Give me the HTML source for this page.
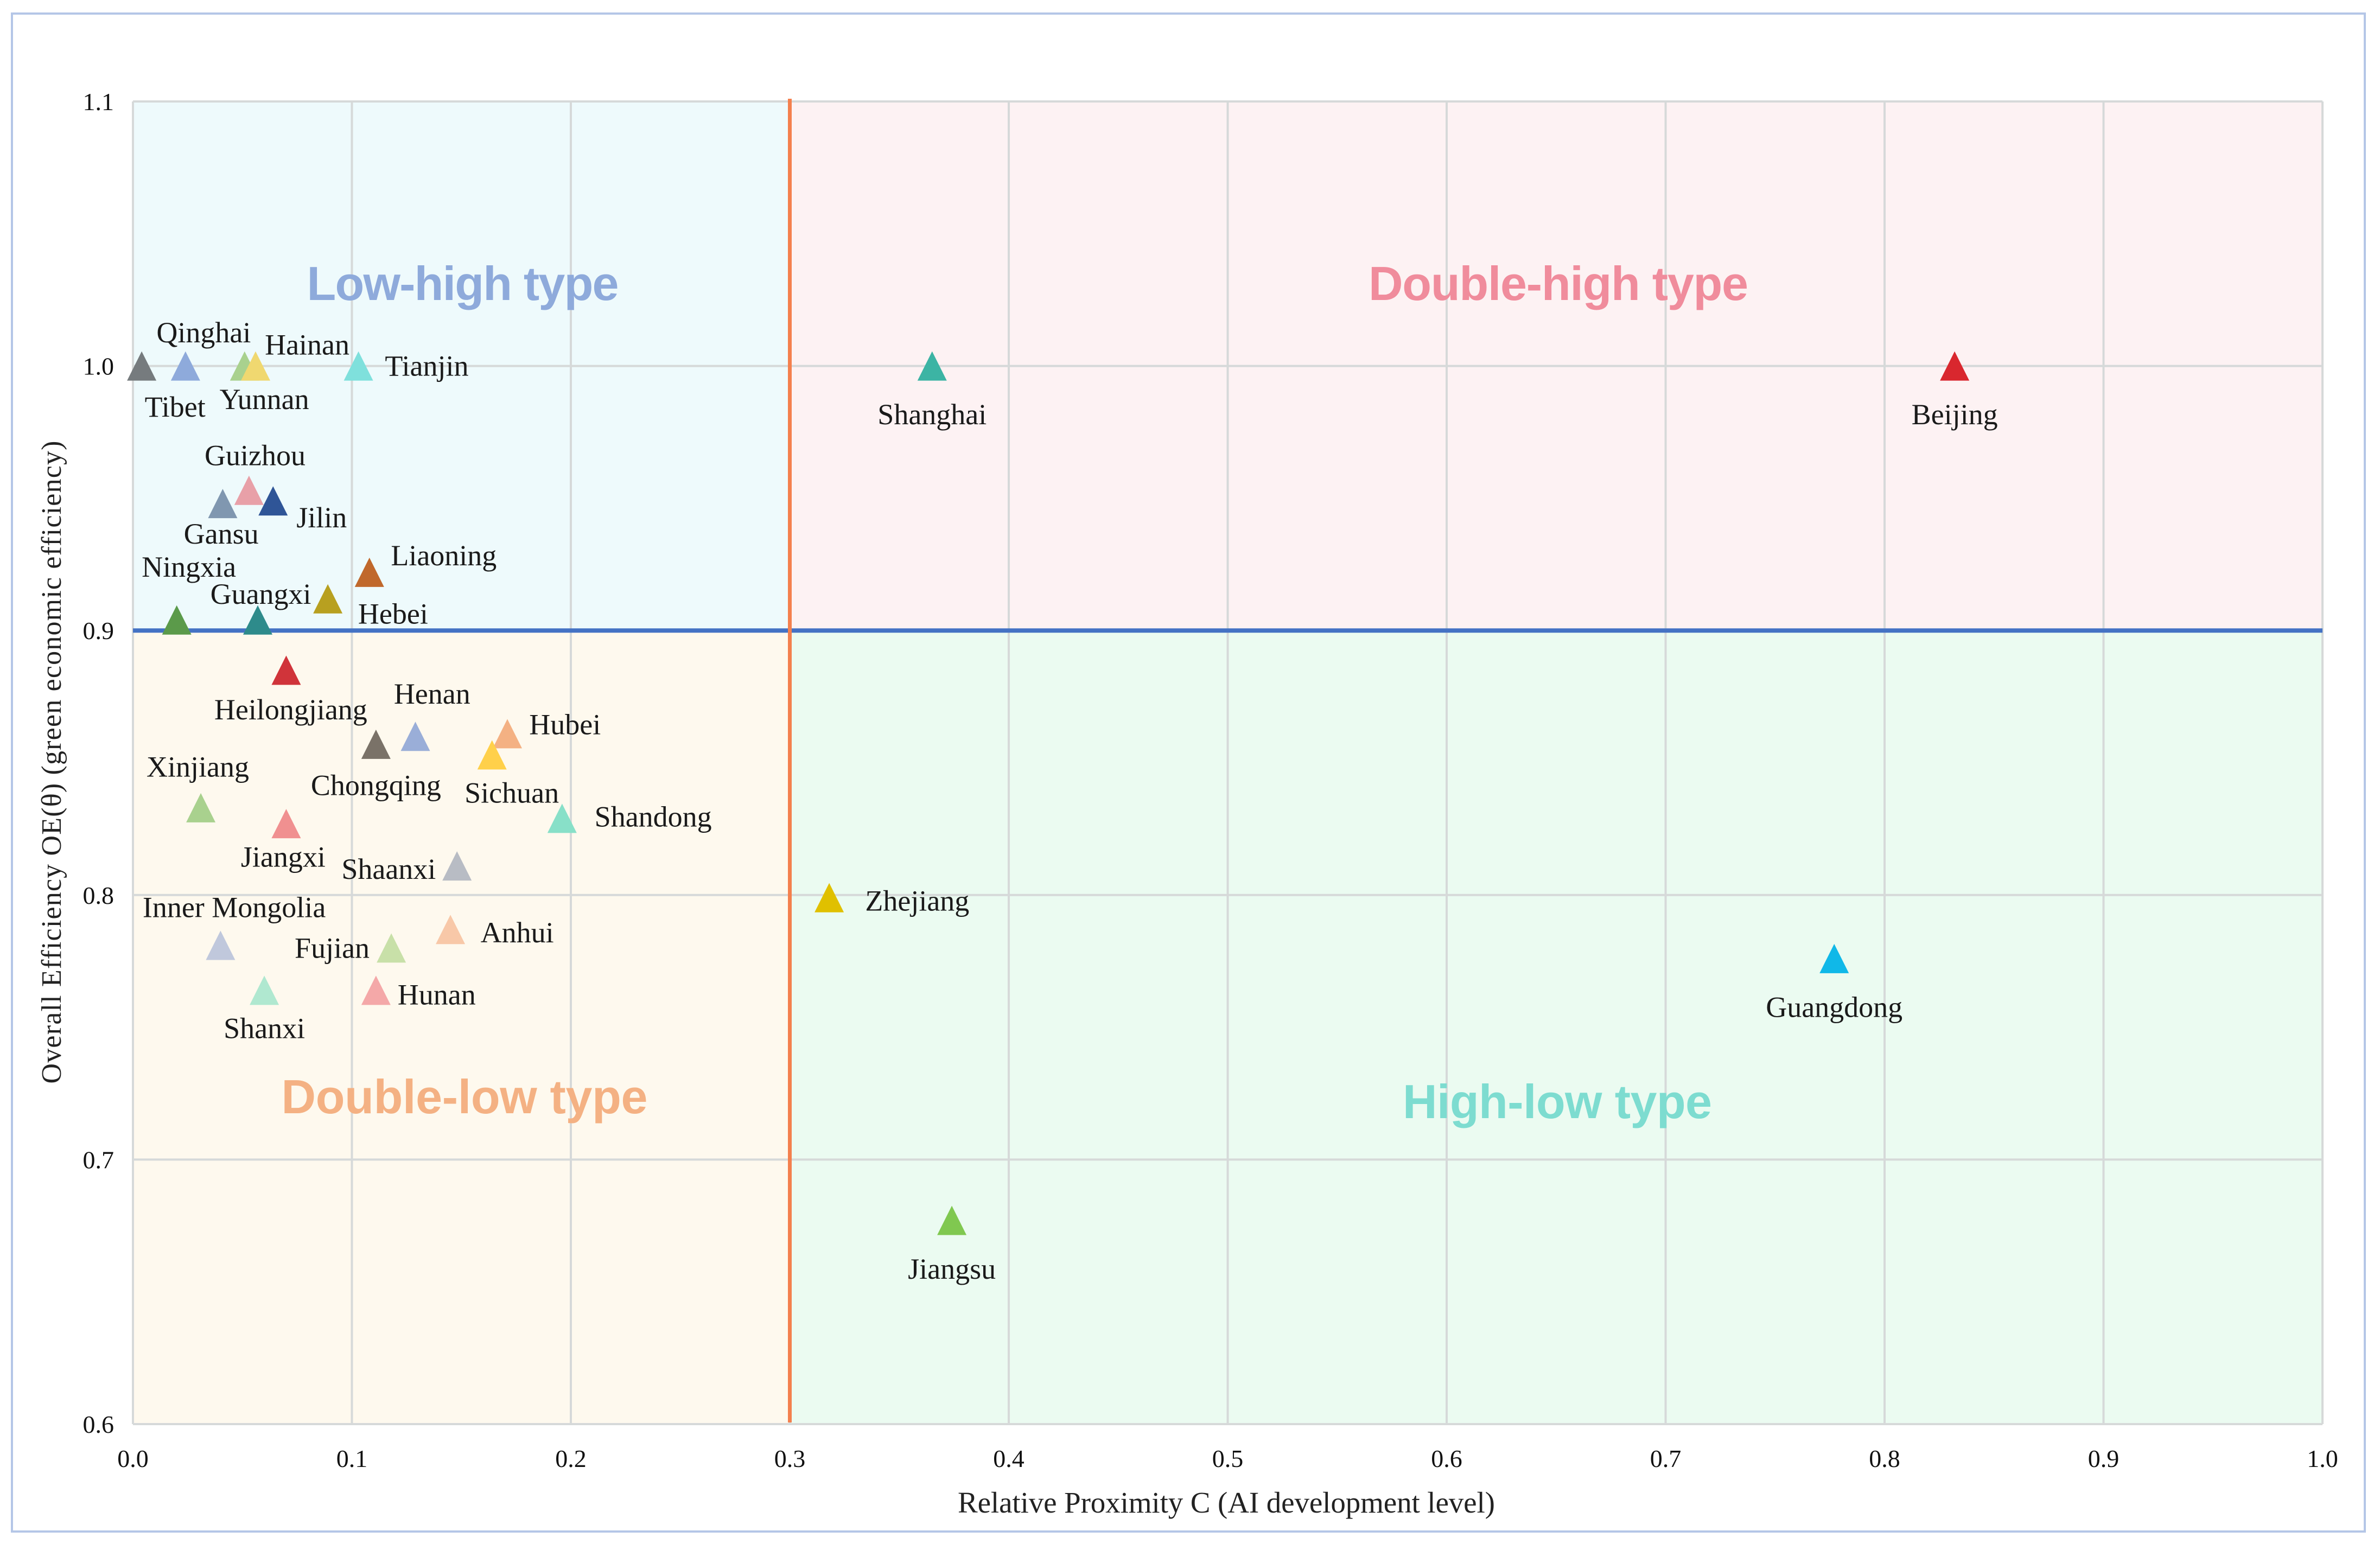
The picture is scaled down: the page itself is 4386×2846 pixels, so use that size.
<!DOCTYPE html>
<html><head><meta charset="utf-8"><style>
html,body{margin:0;padding:0;background:#fff;}
svg{display:block;font-family:"Liberation Serif",serif;}
</style></head><body>
<svg id="chart" width="4386" height="2846" viewBox="0 0 4386 2846">
<rect x="22" y="25" width="4336" height="2798" fill="#fff" stroke="#b4c6e7" stroke-width="4"/>
<g id="bg"></g><g id="grid"></g><g id="lines"></g><g id="qlabels"></g><g id="ticks"></g><g id="marks"></g><g id="names"></g>
<text x="2260" y="2788" text-anchor="middle" font-size="55" fill="#222" textLength="990">Relative Proximity C (AI development level)</text>
<text transform="translate(112,1405) rotate(-90)" text-anchor="middle" font-size="52" fill="#222" textLength="1185">Overall Efficiency OE(θ) (green economic efficiency)</text>
</svg>
<script>
const provinces=["Tibet","Qinghai","Yunnan","Hainan","Tianjin","Shanghai","Beijing","Guizhou","Gansu","Jilin","Liaoning","Hebei","Ningxia","Guangxi","Heilongjiang","Henan","Chongqing","Hubei","Sichuan","Xinjiang","Jiangxi","Shandong","Shaanxi","Zhejiang","Inner Mongolia","Fujian","Anhui","Hunan","Shanxi","Guangdong","Jiangsu"];
const proximityC=[0.004,0.024,0.051,0.056,0.103,0.365,0.832,0.053,0.041,0.064,0.108,0.089,0.020,0.057,0.070,0.129,0.111,0.171,0.164,0.031,0.070,0.196,0.148,0.318,0.040,0.118,0.145,0.111,0.060,0.777,0.374];
const efficiency=[1.0,1.0,1.0,1.0,1.0,1.0,1.0,0.953,0.948,0.949,0.922,0.912,0.904,0.904,0.885,0.860,0.857,0.861,0.853,0.833,0.827,0.829,0.811,0.799,0.781,0.780,0.787,0.764,0.764,0.776,0.677];
const xTicks=[0,0.1,0.2,0.3,0.4,0.5,0.6,0.7,0.8,0.9,1.0];
const yTicks=[0.6,0.7,0.8,0.9,1.0,1.1];
const xSplit=[0.3];
const ySplit=[0.9];
const colors=["#767b7e","#8eaadb","#a9d18e","#f0d870","#7fe0dc","#3cb4a4","#d9272e","#e8a0a8","#8097b0","#2f5597","#c0682c","#b8a020","#5b9a4a","#2e8b8b","#d0343a","#9aaed8","#7a7268","#f4b183","#ffd04a","#a9d18e","#f09090","#88e0c8","#b8bcc4","#e0c000","#c0c8dc","#c8e0a8","#f8c8a8","#f4a8a8","#b0e8d0","#10b8e8","#80c850"];
const labelOff=[[22,27],[12,-22],[13,22],[34,-14],[45,0],[0,32],[0,32],[4,-23],[-1,20],[32,11],[49,-11],[43,10],[8,-35],[2,-17],[3,26],[11,-28],[0,27],[38,-6],[13,25],[-2,-27],[-2,22],[60,-1],[-45,2],[58,2],[9,-25],[-39,0],[44,2],[40,3],[0,25],[0,32],[0,32]];
const L=245,R=4280,T=187,B=2625,K=2.797;
const X=v=>L+(v-0)/(1.0-0)*(R-L);
const Y=v=>B-(v-0.6)/(1.1-0.6)*(B-T);
const NS="http://www.w3.org/2000/svg";
function mk(p,t,a){const e=document.createElementNS(NS,t);for(const k in a)e.setAttribute(k,a[k]);document.getElementById(p).appendChild(e);return e;}
const xs=X(xSplit[0]),ys=Y(ySplit[0]);
let e;
e=mk('bg','rect',{x:L,y:T,width:xs-L,height:ys-T,fill:"#eefafc"});


e=mk('bg','rect',{x:xs,y:T,width:R-xs,height:ys-T,fill:"#fdf2f3"});


e=mk('bg','rect',{x:L,y:ys,width:xs-L,height:B-ys,fill:"#fef9ee"});


e=mk('bg','rect',{x:xs,y:ys,width:R-xs,height:B-ys,fill:"#ebfbf1"});


xTicks.forEach((v,i)=>{
 e=mk('grid','line',{x1:X(v),x2:X(v),y1:T,y2:B,stroke:"#d6d9d9","stroke-width":4});
 
 
 e=mk('ticks','text',{x:X(v),y:2704,"text-anchor":"middle","font-size":46,fill:"#111"});
 e.textContent=v.toFixed(1);
 
 
});
yTicks.forEach(v=>{
 e=mk('grid','line',{x1:L,x2:R,y1:Y(v),y2:Y(v),stroke:"#d6d9d9","stroke-width":4});
 
 
 e=mk('ticks','text',{x:210,y:Y(v)+16,"text-anchor":"end","font-size":46,fill:"#111"});
 e.textContent=v.toFixed(1);
 
 
});
e=mk('lines','line',{x1:L,x2:R,y1:ys,y2:ys,stroke:"#4472c4","stroke-width":8});


e=mk('lines','line',{x1:xs,x2:xs,y1:T-5,y2:B-3,stroke:"#f4804e","stroke-width":7});


const ql=[["Low-high type",853,"#8eaadb",523,"low-high-label",575],["Double-high type",2872,"#f08c9c",523,"double-high-label",700],["Double-low type",856,"#f4b183",2022,"double-low-label",675],["High-low type",2870,"#7ddcd0",2031,"high-low-label",570]];
ql.forEach(q=>{
 e=mk('qlabels','text',{x:q[1],y:q[3]+30,"text-anchor":"middle","font-size":88,"font-weight":"bold",fill:q[2],"font-family":"Liberation Sans, sans-serif",textLength:q[5]});
 e.textContent=q[0];
 
 
});
provinces.forEach((p,i)=>{
 const cx=X(proximityC[i]),cy=Y(efficiency[i]);
 e=mk('marks','polygon',{points:`${cx},${cy-27} ${cx-27},${cy+27} ${cx+27},${cy+27}`,fill:colors[i]});
 
 
 e=mk('names','text',{x:cx+labelOff[i][0]*K,y:cy+labelOff[i][1]*K+18,"text-anchor":"middle","font-size":54,fill:"#1a1a1a"});
 e.textContent=p;
 
 
});
</script>
</body></html>
